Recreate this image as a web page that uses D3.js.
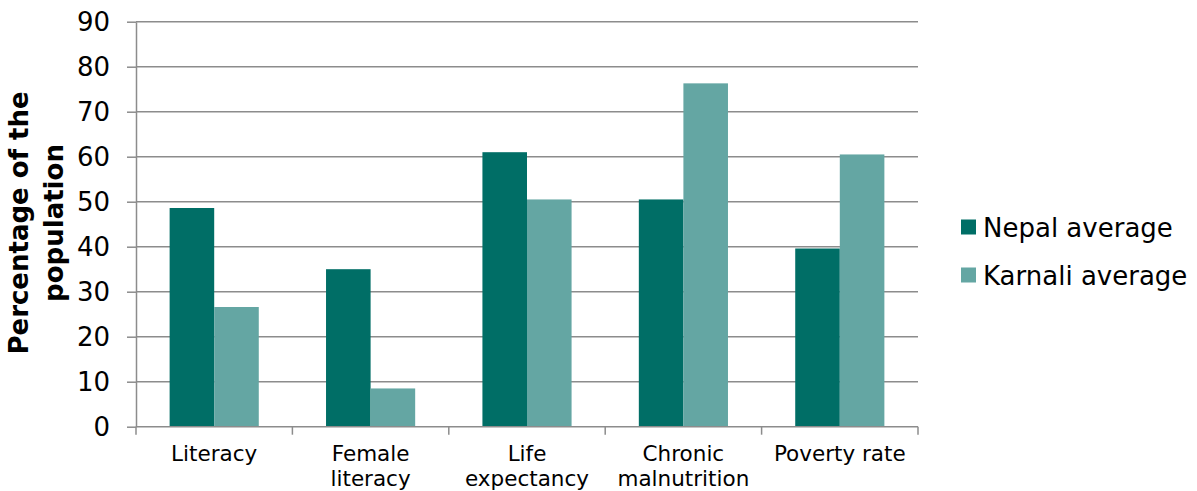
<!DOCTYPE html>
<html><head><meta charset="utf-8">
<script src="https://cdn.jsdelivr.net/npm/d3@7"></script>
<style>body{margin:0;background:#fff}svg{display:block}text{font-family:"DejaVu Sans",Verdana,sans-serif;fill:#000}</style>
</head><body><svg id="c" width="1197" height="491"></svg>
<script>
const categories = [["Literacy"],["Female","literacy"],["Life","expectancy"],["Chronic","malnutrition"],["Poverty rate"]];
const seriesNames = ["Nepal average","Karnali average"];
const nepal = [48.6, 35.0, 61.0, 50.5, 39.6];
const karnali = [26.6, 8.5, 50.5, 76.3, 60.5];
const yTicks = [0,10,20,30,40,50,60,70,80,90];
const colors = ["#006e66","#64a6a3"];

const svg = d3.select("#c");
const pL = 136, pR = 918, pT = 21.7, pB = 426.7;
const keys = categories.map(c => c.join(" "));
const x = d3.scaleBand().domain(keys).range([pL, pR]).paddingInner(0.43).paddingOuter(0.215);
const xs = d3.scaleBand().domain([0,1]).range([0, x.bandwidth()]);
const y = d3.scaleLinear().domain([0,90]).range([pB, pT]);

// grid
svg.append("g").selectAll("line").data(yTicks.filter(d=>d>0)).join("line")
  .attr("x1", pL).attr("x2", pR).attr("y1", d=>y(d)).attr("y2", d=>y(d))
  .attr("stroke", "#8c8c8c").attr("stroke-width", 1.5);

// bars
const data = [nepal, karnali];
data.forEach((vals, s) => {
  svg.append("g").selectAll("rect").data(vals).join("rect")
    .attr("x", (d,i) => x(keys[i]) + xs(s))
    .attr("width", xs.bandwidth())
    .attr("y", d => y(d))
    .attr("height", d => y(0) - y(d))
    .attr("fill", colors[s]);
});

// y axis
const ya = svg.append("g").attr("transform", `translate(${pL},0)`)
  .call(d3.axisLeft(y).tickValues(yTicks).tickSize(9).tickSizeOuter(0).tickPadding(17));
ya.select(".domain").attr("stroke", "#8c8c8c").attr("stroke-width", 1.5);
ya.selectAll(".tick line").attr("stroke", "#8c8c8c").attr("stroke-width", 1.5);
ya.selectAll(".tick text").attr("font-size", 26).attr("font-family", '"DejaVu Sans",Verdana,sans-serif').attr("fill", "#111");

// x axis baseline and boundary ticks
svg.append("line").attr("x1", pL).attr("x2", pR).attr("y1", pB).attr("y2", pB)
  .attr("stroke", "#8c8c8c").attr("stroke-width", 1.5);
const step = x.step();
const bounds = d3.range(categories.length + 1).map(i => x(keys[0]) - x.step()*x.paddingInner()/2 + i*step);
svg.append("g").selectAll("line").data(bounds).join("line")
  .attr("x1", d=>d).attr("x2", d=>d).attr("y1", pB).attr("y2", pB + 8)
  .attr("stroke", "#8c8c8c").attr("stroke-width", 1.5);

// x labels
categories.forEach((lines, i) => {
  const cx = x(keys[i]) + x.bandwidth()/2;
  const t = svg.append("text").attr("text-anchor", "middle").attr("font-size", 21.5).attr("fill", "#111");
  lines.forEach((l, j) => t.append("tspan").attr("x", cx).attr("y", 461 + j*25).text(l));
});

// y title
const yt = svg.append("text").attr("transform", "translate(0,223) rotate(-90)")
  .attr("text-anchor", "middle").attr("font-size", 26).attr("font-weight", "bold");
yt.append("tspan").attr("x", 0).attr("y", 28).text("Percentage of the");
yt.append("tspan").attr("x", 0).attr("y", 63).text("population");

// legend
const lg = svg.append("g");
seriesNames.forEach((n, i) => {
  const yy = 227 + i*48;
  lg.append("rect").attr("x", 961).attr("y", yy - 7.5).attr("width", 15).attr("height", 15).attr("fill", colors[i]);
  lg.append("text").attr("x", 983).attr("y", yy + 9.5).attr("font-size", 26).attr("fill", "#111").text(n);
});
</script></body></html>
